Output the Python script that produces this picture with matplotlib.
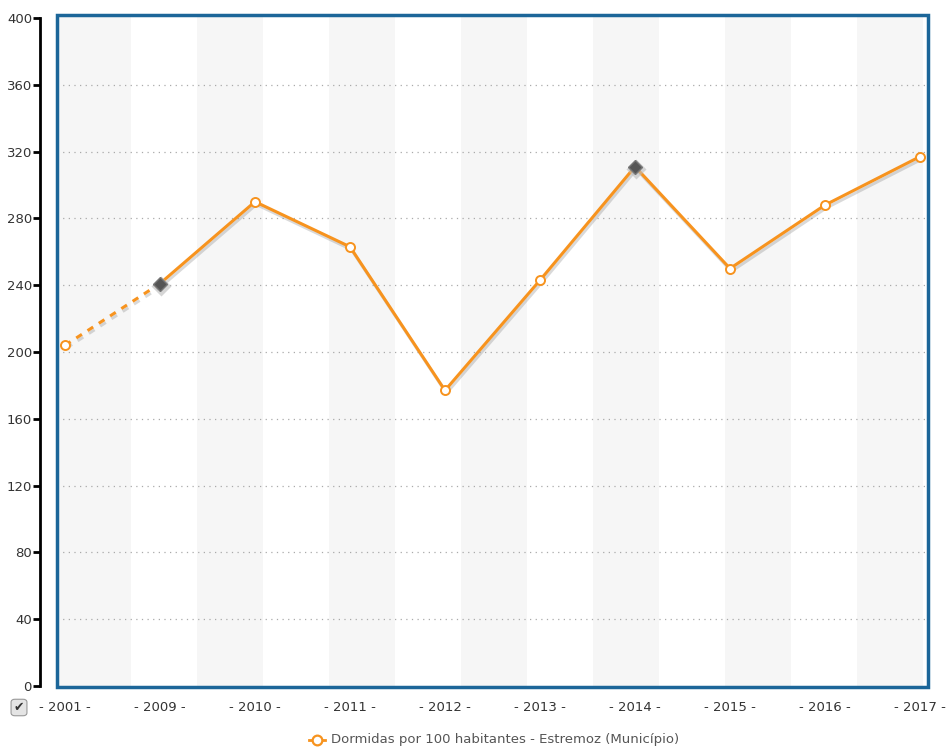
import numpy as np
import matplotlib.pyplot as plt
import matplotlib.patheffects as pe
from matplotlib.patches import Rectangle, FancyBboxPatch
from matplotlib.lines import Line2D

# ── Dados ────────────────────────────────────────────────────────────
anos = ["2001", "2009", "2010", "2011", "2012", "2013", "2014", "2015", "2016", "2017"]
valores = [204, 241, 290, 263, 177, 243, 311, 250, 288, 317]
destaque = ["2009", "2014"]  # pontos em losango cinzento
legenda = "Dormidas por 100 habitantes - Estremoz (Município)"
y_ticks = [0, 40, 80, 120, 160, 200, 240, 280, 320, 360, 400]

LARANJA = "#F7931E"
AZUL = "#1C6699"
TEXTO = "#333333"

plt.rcParams["font.family"] = ["DejaVu Sans"]

fig = plt.figure(figsize=(9.5, 7.49), dpi=100)
fig.patch.set_facecolor("white")
ax = fig.add_axes([57 / 950, 1 - 687 / 749, 871 / 950, 672 / 749])

x = np.arange(len(anos))
ax.set_xlim(-0.084, len(anos) - 1 + 0.084)
ax.set_ylim(-0.6, 401.8)

# faixas verticais alternadas
periodo, largura = 1.3895, 0.695
ax.axvspan(-0.2, largura, color="#F6F6F6", zorder=0, lw=0)
k = 1
while k * periodo < len(anos):
    ax.axvspan(k * periodo, k * periodo + largura, color="#F6F6F6", zorder=0, lw=0)
    k += 1

# grelha pontilhada
for t in y_ticks[1:-1]:
    ax.axhline(t, color="#AAAAAA", ls=(0, (1, 3.5)), lw=0.9, zorder=1)

sombra = [pe.SimpleLineShadow(offset=(1, -2), alpha=0.2, shadow_color="#444444"), pe.Normal()]

# segmento tracejado 2001-2009 e linha contínua
ax.plot(x[:2], valores[:2], color=LARANJA, lw=2.2, ls=(0, (2.2, 2.2)), zorder=3,
        path_effects=sombra)
ax.plot(x[1:], valores[1:], color=LARANJA, lw=2.2, zorder=3, path_effects=sombra,
        solid_joinstyle="miter")

# marcadores
for xi, v, a in zip(x, valores, anos):
    if a in destaque:
        ax.plot(xi + 0.012, v - 1.2, marker="D", ms=10, color="#BBBBBB", alpha=0.6, zorder=4, mec="none")
        ax.plot(xi, v, marker="D", ms=7.5, color="#555555", mec="#777777", mew=1, zorder=5)
    else:
        ax.plot(xi, v, marker="o", ms=6.5, mfc="white", mec=LARANJA, mew=1.4, zorder=5)

# moldura azul
ax.add_patch(Rectangle((0, 0), 1, 1, transform=ax.transAxes, fill=False,
                       ec=AZUL, lw=2.5, zorder=6, clip_on=False))
for s in ["top", "right", "bottom"]:
    ax.spines[s].set_visible(False)
ax.spines["left"].set_position(("outward", 12))
ax.spines["left"].set_bounds(0, 400)
ax.spines["left"].set_linewidth(2)
ax.spines["left"].set_color("black")

ax.set_yticks(y_ticks)
ax.set_yticklabels([str(t) for t in y_ticks])
ax.tick_params(axis="y", length=5, width=2, color="black", labelsize=9.5, labelcolor=TEXTO, pad=1)
ax.set_xticks(x)
ax.set_xticklabels([f"- {a} -" for a in anos])
ax.tick_params(axis="x", length=0, labelsize=9.5, labelcolor=TEXTO, pad=10)

# caixa de verificação
cb = FancyBboxPatch((12 / 950, 1 - 715 / 749), 14 / 950, 15 / 749,
                    boxstyle="round,pad=0.001,rounding_size=0.004", transform=fig.transFigure,
                    fc="#E4E4E4", ec="#999999", lw=0.8)
fig.patches.append(cb)
fig.text(19 / 950, 1 - 707 / 749, "✔", ha="center", va="center", fontsize=9, color="#333333")

# legenda
fig.lines.append(Line2D([309 / 950, 325 / 950], [1 - 740 / 749] * 2, transform=fig.transFigure,
                        color=LARANJA, lw=2, marker="o", markevery=[], zorder=1))
fig.lines.append(Line2D([317 / 950], [1 - 740 / 749], transform=fig.transFigure,
                        color=LARANJA, marker="o", ms=7, mfc="white", mec=LARANJA, mew=1.6, lw=0))
fig.text(331 / 950, 1 - 740 / 749, legenda, ha="left", va="center", fontsize=9.5, color="#555555")

plt.savefig("out.png", dpi=100, facecolor="white")
